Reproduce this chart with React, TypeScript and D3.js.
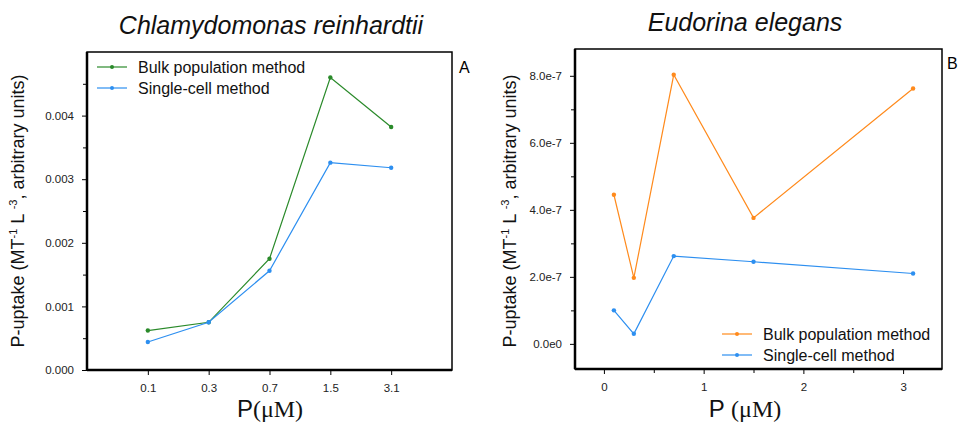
import * as d3 from 'd3';
import { useEffect, useRef } from 'react';

// concentrations (µM)
const concLabels = ['0.1', '0.3', '0.7', '1.5', '3.1'];
const concValues = [0.1, 0.3, 0.7, 1.5, 3.1];

// Chlamydomonas reinhardtii
const chlamBulk = [0.00062, 0.00075, 0.00175, 0.0046, 0.00382];
const chlamSingle = [0.00044, 0.00075, 0.00156, 0.00326, 0.00318];

// Eudorina elegans
const eudoBulk = [4.45e-7, 1.97e-7, 8.03e-7, 3.76e-7, 7.62e-7];
const eudoSingle = [1.0e-7, 0.3e-7, 2.62e-7, 2.45e-7, 2.1e-7];

const leftTicks = [0, 0.001, 0.002, 0.003, 0.004];
const rightTicks = [0, 2e-7, 4e-7, 6e-7, 8e-7];
const rightXTicks = [0, 1, 2, 3];

const GREEN = '#2a8a2a';
const BLUE = '#2d8ff0';
const ORANGE = '#ff8a1c';
const FONT = 'Liberation Sans, Arial, sans-serif';

const App = () => {
  const ref = useRef(null);

  useEffect(() => {
    var svg = d3.select(ref.current);
    svg.selectAll('*').remove();

    // ---------- helpers
    const drawSeries = (g, xs, ys, vals, color) => {
      const pts = vals.map((v, i) => [xs(i), ys(v)]);
      g.append('path')
        .attr('d', d3.line()(pts))
        .attr('fill', 'none')
        .attr('stroke', color)
        .attr('stroke-width', 1.2);
      g.selectAll(null)
        .data(pts)
        .join('circle')
        .attr('cx', (d) => d[0])
        .attr('cy', (d) => d[1])
        .attr('r', 2.2)
        .attr('fill', color);
    };

    const legend = (g, x, y, items) => {
      items.forEach((it, i) => {
        const yy = y + i * 21;
        g.append('line')
          .attr('x1', x).attr('x2', x + 30)
          .attr('y1', yy).attr('y2', yy)
          .attr('stroke', it.color).attr('stroke-width', 1.2);
        g.append('circle').attr('cx', x + 15).attr('cy', yy).attr('r', 2).attr('fill', it.color);
        g.append('text')
          .attr('x', x + 41).attr('y', yy + 5.5)
          .attr('font-family', FONT).attr('font-size', 16)
          .attr('fill', '#111')
          .text(it.label);
      });
    };

    const yLabel = (x, y) => {
      const t = svg.append('text')
        .attr('transform', `translate(${x},${y}) rotate(-90)`)
        .attr('text-anchor', 'middle')
        .attr('font-family', FONT)
        .attr('font-size', 18)
        .attr('fill', '#111');
      t.append('tspan').text('P-uptake (MT');
      t.append('tspan').attr('dy', -7).attr('font-size', 11).text('-1');
      t.append('tspan').attr('dy', 7).text(' L ');
      t.append('tspan').attr('dy', -7).attr('font-size', 11).text('-3');
      t.append('tspan').attr('dy', 7).text(', arbitrary units)');
    };

    const xLabel = (x, y, gap) => {
      const t = svg.append('text')
        .attr('x', x).attr('y', y)
        .attr('text-anchor', 'middle')
        .attr('font-size', 24)
        .attr('fill', '#111');
      t.append('tspan').attr('font-family', FONT).text('P' + gap);
      t.append('tspan').attr('font-family', 'Liberation Serif, Times New Roman, serif').text('(μM)');
    };

    const frame = (g, w, h) => {
      g.append('rect')
        .attr('x', 0).attr('y', 0).attr('width', w).attr('height', h)
        .attr('fill', 'none').attr('stroke', '#000').attr('stroke-width', 1.5);
      g.append('line').attr('x1', 0).attr('x2', w).attr('y1', h).attr('y2', h)
        .attr('stroke', '#000').attr('stroke-width', 2.5);
      g.append('line').attr('x1', 0).attr('x2', 0).attr('y1', 0).attr('y2', h)
        .attr('stroke', '#000').attr('stroke-width', 2.5);
    };

    const styleAxis = (a) => {
      a.select('.domain').remove();
      a.selectAll('text').attr('font-family', FONT).attr('font-size', 11.5).attr('fill', '#222');
      a.selectAll('line').attr('stroke', '#000');
    };

    const minor = (a) => {
      a.select('.domain').remove();
      a.selectAll('line').attr('stroke', '#000');
    };

    // ---------- Panel A
    const A = { l: 87, t: 52, r: 452, b: 370 };
    const wA = A.r - A.l, hA = A.b - A.t;
    const gA = svg.append('g').attr('transform', `translate(${A.l},${A.t})`);
    const xA = d3.scaleLinear().domain([0, 6]).range([0, wA]);
    const xAi = (i) => xA(i + 1);
    const yA = d3.scaleLinear().domain([0, 0.005]).range([hA, 0]);

    const axA = gA.append('g').attr('transform', `translate(0,${hA})`)
      .call(d3.axisBottom(xA).tickValues([1, 2, 3, 4, 5]).tickFormat((d) => concLabels[d - 1]).tickSize(5).tickPadding(9));
    styleAxis(axA);
    const ayA = gA.append('g')
      .call(d3.axisLeft(yA).tickValues(leftTicks).tickFormat(d3.format('.3f')).tickSize(5).tickPadding(8));
    styleAxis(ayA);
    gA.append('g')
      .call(d3.axisLeft(yA).tickValues(leftTicks.map((d) => d + 0.0005)).tickFormat(() => '').tickSize(4))
      .call(minor);

    frame(gA, wA, hA);
    drawSeries(gA, xAi, yA, chlamBulk, GREEN);
    drawSeries(gA, xAi, yA, chlamSingle, BLUE);
    legend(svg, 97, 67, [
      { label: 'Bulk population method', color: GREEN },
      { label: 'Single-cell method', color: BLUE },
    ]);
    svg.append('text').attr('x', 459).attr('y', 73).attr('font-family', FONT).attr('font-size', 16).text('A');
    svg.append('text').attr('x', 271).attr('y', 34).attr('text-anchor', 'middle')
      .attr('font-family', FONT).attr('font-size', 25).attr('font-style', 'italic').attr('fill', '#111')
      .text('Chlamydomonas reinhardtii');
    yLabel(24, 211);
    xLabel(270, 417, '');

    // ---------- Panel B
    const B = { l: 575, t: 49, r: 942, b: 369 };
    const wB = B.r - B.l, hB = B.b - B.t;
    const gB = svg.append('g').attr('transform', `translate(${B.l},${B.t})`);
    const xB = d3.scaleLinear().domain([-0.29, 3.39]).range([0, wB]);
    const xBi = (i) => xB(concValues[i]);
    const yB = d3.scaleLinear().domain([-0.75e-7, 8.8e-7]).range([hB, 0]);

    const axB = gB.append('g').attr('transform', `translate(0,${hB})`)
      .call(d3.axisBottom(xB).tickValues(rightXTicks).tickFormat(d3.format('d')).tickSize(5).tickPadding(9));
    styleAxis(axB);
    gB.append('g').attr('transform', `translate(0,${hB})`)
      .call(d3.axisBottom(xB).tickValues([0.5, 1.5, 2.5]).tickFormat(() => '').tickSize(4))
      .call(minor);
    const ayB = gB.append('g')
      .call(d3.axisLeft(yB).tickValues(rightTicks).tickFormat((d) => d === 0 ? '0.0e0' : d3.format('.1e')(d)).tickSize(5).tickPadding(8));
    styleAxis(ayB);
    gB.append('g')
      .call(d3.axisLeft(yB).tickValues([1e-7, 3e-7, 5e-7, 7e-7]).tickFormat(() => '').tickSize(4))
      .call(minor);

    frame(gB, wB, hB);
    drawSeries(gB, xBi, yB, eudoBulk, ORANGE);
    drawSeries(gB, xBi, yB, eudoSingle, BLUE);
    legend(svg, 722, 334, [
      { label: 'Bulk population method', color: ORANGE },
      { label: 'Single-cell method', color: BLUE },
    ]);
    svg.append('text').attr('x', 947).attr('y', 69).attr('font-family', FONT).attr('font-size', 16).text('B');
    svg.append('text').attr('x', 745).attr('y', 31).attr('text-anchor', 'middle')
      .attr('font-family', FONT).attr('font-size', 25).attr('font-style', 'italic').attr('fill', '#111')
      .text('Eudorina elegans');
    yLabel(516, 211);
    xLabel(745, 417, ' ');
  }, []);

  return (
    <svg
      ref={ref}
      width={960}
      height={423}
      style={{ position: 'absolute', left: 0, top: 0, background: '#fff' }}
    ></svg>
  );
};

export default App;
